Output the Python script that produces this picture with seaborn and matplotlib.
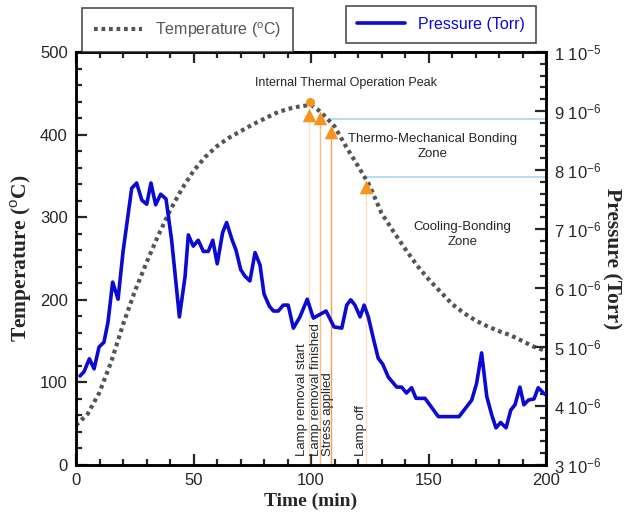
import numpy as np
import matplotlib.pyplot as plt
import seaborn as sns
from matplotlib.ticker import MultipleLocator, FuncFormatter
from matplotlib.lines import Line2D

# temperature curve (deg C)
time_t = [0, 5, 10, 15, 20, 25, 30, 35, 40, 45, 50, 55, 60, 65, 70, 75, 80, 85, 90, 95,
          100, 103, 106, 110, 115, 120, 125, 130, 135, 140, 145, 150, 155, 160, 165, 170,
          175, 180, 185, 190, 195, 200]
temp = [48, 62, 88, 125, 170, 210, 245, 278, 308, 334, 356, 373, 386, 396, 404, 412, 419, 426, 431, 434,
        436, 430, 422, 410, 385, 362, 338, 305, 283, 262, 242, 225, 210, 195, 184, 175,
        168, 162, 157, 150, 143, 138]

# pressure curve, in units of 1e-6 Torr
time_p = [1.7, 3.4, 5.7, 7.7, 9.8, 11.9, 13.6, 15.6, 17.9, 20.0, 23.7, 25.8, 28.0, 30.1, 31.9,
          33.9, 36.0, 38.3, 40.7, 44.0, 46.4, 47.8, 49.9, 52.0, 54.2, 56.3, 58.2, 60.1, 62.4,
          64.1, 66.3, 68.1, 70.1, 71.9, 74.0, 76.2, 78.3, 80.0, 82.3, 84.0, 86.1, 88.2, 90.3,
          92.5, 95.3, 98.4, 101.0, 106.4, 109.8, 113.1, 115.2, 116.9, 118.7, 120.9, 122.6,
          124.4, 126.5, 128.6, 130.5, 132.9, 136.5, 138.6, 140.6, 142.8, 144.7, 148.5, 154.2,
          163.0, 168.4, 170.5, 172.6, 174.8, 176.9, 178.7, 180.7, 183.0, 185.0, 186.8, 188.9,
          190.6, 192.5, 194.9, 196.7, 198.9, 200]
press_e6 = [4.51, 4.58, 4.80, 4.63, 5.00, 5.08, 5.42, 6.10, 5.81, 6.61, 7.69, 7.78, 7.49, 7.42, 7.78,
            7.41, 7.59, 7.51, 6.81, 5.51, 6.19, 6.90, 6.71, 6.81, 6.62, 6.62, 6.81, 6.41, 6.94,
            7.11, 6.83, 6.64, 6.31, 6.20, 6.12, 6.60, 6.39, 5.90, 5.69, 5.61, 5.61, 5.71, 5.71,
            5.32, 5.51, 5.81, 5.49, 5.61, 5.34, 5.32, 5.71, 5.80, 5.71, 5.51, 5.71,
            5.51, 5.15, 4.81, 4.71, 4.49, 4.32, 4.32, 4.22, 4.31, 4.13, 4.13, 3.82,
            3.82, 4.10, 4.39, 4.90, 4.16, 3.85, 3.63, 3.72, 3.63, 3.93, 4.02, 4.32,
            4.02, 4.10, 4.12, 4.31, 4.22, 4.19]
pressure = [p * 1e-6 for p in press_e6]

# event markers on the temperature curve
event_time = [99.1, 103.8, 108.5, 123.3]
event_temp = [424, 420, 403.5, 336]
event_names = ["Lamp removal start", "Lamp removal finished", "Stress applied", "Lamp off"]
event_label_x = [96.0, 102.2, 107.3, 121.4]
event_colors = ["#fddcbf", "#f9b98a", "#f5a05a", "#fddcbf"]
peak_time, peak_temp = 99.6, 440

# zone boundaries (horizontal lines)
zone_start = [108.5, 124.0]
zone_temp = [419, 349]

sns.set_style("ticks")
plt.rcParams['font.family'] = ['Liberation Sans', 'DejaVu Sans']
plt.rcParams['mathtext.fontset'] = 'custom'
plt.rcParams['mathtext.rm'] = 'Liberation Sans'
plt.rcParams['mathtext.it'] = 'Liberation Sans:italic'
plt.rcParams['mathtext.bf'] = 'Liberation Sans:bold'

fig = plt.figure(figsize=(6.27, 5.23), dpi=100)
ax = fig.add_axes([76 / 627, 58 / 523, 470 / 627, 413 / 523])
ax2 = ax.twinx()

temp_color = "#555555"
press_color = "#0a0ad2"
orange = "#f7941d"
temp_ls = (0, (0.9, 0.9))

sns.lineplot(x=time_t, y=temp, ax=ax, color=temp_color, linewidth=3.0,
             linestyle=temp_ls, estimator=None, zorder=3)

for t, T, c in zip(event_time, event_temp, event_colors):
    ax.plot([t, t], [0, T], color=c, linewidth=1.0, zorder=2)
for t, T in zip(zone_start, zone_temp):
    ax.plot([t, 200], [T, T], color="#a9d3f3", linewidth=1.2, zorder=2)

sns.scatterplot(x=event_time, y=event_temp, ax=ax, marker="^", color=orange,
                s=95, edgecolor=orange, linewidth=0, zorder=4)
ax.scatter([peak_time], [peak_temp], marker="o", color=orange, s=30, zorder=4)

sns.lineplot(x=time_p, y=pressure, ax=ax2, color=press_color, linewidth=2.6,
             estimator=None, zorder=3)

# text annotations
ax.text(115, 462, "Internal Thermal Operation Peak", fontsize=9, ha="center", va="center")
ax.text(151.6, 386, "Thermo-Mechanical Bonding\nZone", fontsize=9.5, ha="center", va="center",
        linespacing=1.3)
ax.text(164.5, 279, "Cooling-Bonding\nZone", fontsize=9.5, ha="center", va="center",
        linespacing=1.3)
for x, name in zip(event_label_x, event_names):
    ax.text(x, 11, name, rotation=90, fontsize=9.5, ha="center", va="bottom")

# axes limits and ticks
ax.set_xlim(0, 200)
ax.set_ylim(0, 500)
ax2.set_ylim(3e-6, 1e-5)
ax.xaxis.set_major_locator(MultipleLocator(50))
ax.xaxis.set_minor_locator(MultipleLocator(10))
ax.yaxis.set_major_locator(MultipleLocator(100))
ax.yaxis.set_minor_locator(MultipleLocator(20))
ax2.yaxis.set_major_locator(MultipleLocator(1e-6))
ax2.yaxis.set_minor_locator(MultipleLocator(2e-7))


def sci_fmt(v, pos):
    e = int(np.floor(np.log10(v) + 1e-9))
    m = int(round(v / 10 ** e))
    return f"{m} 10$^{{{e}}}$"


ax2.yaxis.set_major_formatter(FuncFormatter(sci_fmt))

ax.tick_params(axis="both", which="both", direction="in", top=True, right=False,
               labelsize=12, width=1.6, pad=6)
ax.tick_params(axis="both", which="major", length=8)
ax.tick_params(axis="both", which="minor", length=4.5)
ax2.tick_params(axis="y", which="both", direction="in", width=1.6, labelsize=12, pad=6)
ax2.tick_params(axis="y", which="major", length=8)
ax2.tick_params(axis="y", which="minor", length=4.5)

for a in (ax, ax2):
    for sp in a.spines.values():
        sp.set_linewidth(1.8)
        sp.set_color("black")
        sp.set_visible(True)

serif = ['Liberation Serif', 'DejaVu Serif']
ax.set_xlabel("Time (min)", fontsize=14, fontweight="bold", family=serif, labelpad=3)
ax.set_ylabel("Temperature ($^{\\mathrm{o}}$C)", fontsize=15.5, fontweight="bold", family=serif,
              labelpad=4)
ax2.set_ylabel("Pressure (Torr)", fontsize=15.5, fontweight="bold", family=serif,
               rotation=270, labelpad=14)

# two separate legend boxes above the plot
h_temp = Line2D([], [], color=temp_color, linewidth=3.0, linestyle=temp_ls)
h_press = Line2D([], [], color=press_color, linewidth=2.6)
leg1 = fig.legend([h_temp], ["Temperature ($^{\\mathrm{o}}$C)"], loc="lower left",
                  bbox_to_anchor=(82 / 627, 1 - 52 / 523), fontsize=11.5, labelcolor=temp_color,
                  frameon=True, fancybox=False, edgecolor="#222222", handlelength=3,
                  borderpad=0.75, borderaxespad=0)
leg1.get_frame().set_linewidth(1.2)
leg2 = fig.legend([h_press], ["Pressure (Torr)"], loc="lower left",
                  bbox_to_anchor=(346 / 627, 1 - 43 / 523), fontsize=11.5, labelcolor=press_color,
                  frameon=True, fancybox=False, edgecolor="#222222", handlelength=3,
                  borderpad=0.7, borderaxespad=0)
leg2.get_frame().set_linewidth(1.2)

fig.savefig("out.png", dpi=100)
